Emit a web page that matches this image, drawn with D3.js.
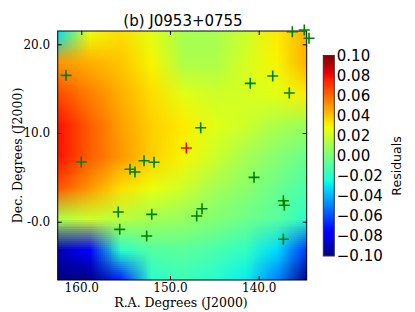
<!DOCTYPE html>
<html>
<head>
<meta charset="utf-8">
<script src="https://cdn.jsdelivr.net/npm/d3@7"></script>
<style>
  body { margin: 0; background: #fff; }
  .serif { font-family: 'DejaVu Serif', serif; }
  .sans { font-family: 'DejaVu Sans', sans-serif; }
</style>
</head>
<body>
<svg id="chart" width="415" height="312"></svg>
<script>
const title = '(b) J0953+0755';

// residual surface, sampled on a regular grid (rows = Dec, cols = R.A.)
const gridRA = [162.66, 159.15, 155.64, 152.13, 148.63, 145.12, 141.61, 138.10, 134.59];
const gridDec = [21.5, 17.99, 14.48, 10.97, 7.47, 3.96, 0.45, -3.06, -6.57];
const residuals = [
  [-0.03, 0.028, 0.035, 0.025, 0.01, 0.01, 0.02, 0.032, 0.045],
  [0.05, 0.045, 0.04, 0.03, 0.012, 0.012, 0.022, 0.03, 0.045],
  [0.066, 0.055, 0.045, 0.035, 0.025, 0.02, 0.022, 0.025, 0.032],
  [0.078, 0.062, 0.048, 0.038, 0.032, 0.025, 0.02, 0.012, 0.008],
  [0.078, 0.062, 0.05, 0.038, 0.03, 0.02, 0.01, 0.003, -0.005],
  [0.064, 0.05, 0.035, 0.027, 0.02, 0.01, 0.004, -0.004, -0.012],
  [0.012, 0.02, 0.015, 0.01, 0.007, 0.002, -0.003, -0.008, -0.02],
  [-0.09, -0.075, -0.02, -0.01, -0.008, -0.012, -0.018, -0.032, -0.065],
  [-0.1, -0.1, -0.07, -0.02, -0.015, -0.02, -0.028, -0.05, -0.1],
];

// calibrator sources (green) and the target (red)
const sourceRA = [161.72, 136.21, 134.86, 134.33, 140.95, 138.42, 136.55, 146.54, 160.0,
  152.93, 151.8, 154.51, 153.95, 140.53, 155.83, 152.06, 146.39, 146.99, 137.22, 137.11,
  155.67, 152.63, 137.22];
const sourceDec = [16.5, 21.42, 21.61, 20.68, 15.6, 16.43, 14.51, 10.6, 6.73,
  6.88, 6.7, 5.91, 5.6, 5.0, 1.09, 0.83, 1.47, 0.64, 2.37, 1.85,
  -0.86, -1.61, -1.98];
const targetRA = [148.16];
const targetDec = [8.31];

const xTicks = [160, 150, 140];
const xTickLabels = ['160.0', '150.0', '140.0'];
const yTicks = [20, 10, 0];
const yTickLabels = ['20.0', '10.0', '-0.0'];
const cbarTicks = [0.10, 0.08, 0.06, 0.04, 0.02, 0.00, -0.02, -0.04, -0.06, -0.08, -0.10];
const cbarTickLabels = ['0.10', '0.08', '0.06', '0.04', '0.02', '0.00',
  '\u22120.02', '\u22120.04', '\u22120.06', '\u22120.08', '\u22120.10'];

const plot = { left: 57.7, top: 31, width: 249, height: 249 };
const cbar = { left: 323.3, top: 55.5, width: 11, height: 200.5 };

// matplotlib "jet"
const jetR = d3.scaleLinear().domain([0, 0.35, 0.66, 0.89, 1]).range([0, 0, 1, 1, 0.5]).clamp(true);
const jetG = d3.scaleLinear().domain([0, 0.125, 0.375, 0.64, 0.91, 1]).range([0, 0, 1, 1, 0, 0]).clamp(true);
const jetB = d3.scaleLinear().domain([0, 0.11, 0.34, 0.65, 1]).range([0.5, 1, 1, 0, 0]).clamp(true);
const jet = t => d3.rgb(jetR(t) * 255, jetG(t) * 255, jetB(t) * 255);

const color = d3.scaleSequential(jet).domain([-0.1, 0.1]).clamp(true);

const x = d3.scaleLinear()
  .domain([gridRA[0], gridRA[gridRA.length - 1]])
  .range([plot.left, plot.left + plot.width]);
const y = d3.scaleLinear()
  .domain([gridDec[0], gridDec[gridDec.length - 1]])
  .range([plot.top, plot.top + plot.height]);

const svg = d3.select('#chart');

// --- residual image: one pixel per grid node, smoothed up to the plot size
const nx = gridRA.length, ny = gridDec.length;
const small = document.createElement('canvas');
small.width = nx; small.height = ny;
const sctx = small.getContext('2d');
const img = sctx.createImageData(nx, ny);
residuals.forEach((row, j) => row.forEach((v, i) => {
  const c = d3.rgb(color(v));
  const k = (j * nx + i) * 4;
  img.data[k] = c.r; img.data[k + 1] = c.g; img.data[k + 2] = c.b; img.data[k + 3] = 255;
}));
sctx.putImageData(img, 0, 0);

const x0 = x(gridRA[0]), x1 = x(gridRA[nx - 1]);
const y0 = y(gridDec[0]), y1 = y(gridDec[ny - 1]);
const big = document.createElement('canvas');
big.width = Math.round(x1 - x0); big.height = Math.round(y1 - y0);
const bctx = big.getContext('2d');
bctx.imageSmoothingEnabled = true;
bctx.imageSmoothingQuality = 'low';
bctx.drawImage(small, 0.5, 0.5, nx - 1, ny - 1, 0, 0, big.width, big.height);

svg.append('image')
  .attr('x', x0).attr('y', y0)
  .attr('width', x1 - x0).attr('height', y1 - y0)
  .attr('preserveAspectRatio', 'none')
  .attr('href', big.toDataURL());

// --- axes (ticks point inward, on all four sides)
const tickFont = g => g.selectAll('text')
  .attr('class', 'serif').style('font-size', '12px').attr('fill', '#000');
const clean = g => {
  g.select('.domain').remove();
  g.selectAll('line').attr('stroke', '#000');
};

svg.append('g')
  .attr('transform', `translate(0,${plot.top + plot.height})`)
  .call(d3.axisBottom(x).tickValues(xTicks).tickFormat((d, i) => xTickLabels[i])
    .tickSizeInner(-4).tickSizeOuter(0).tickPadding(3.5))
  .call(clean).call(tickFont);

svg.append('g')
  .attr('transform', `translate(0,${plot.top})`)
  .call(d3.axisTop(x).tickValues(xTicks).tickFormat('').tickSizeInner(-4).tickSizeOuter(0))
  .call(clean);

svg.append('g')
  .attr('transform', `translate(${plot.left},0)`)
  .call(d3.axisLeft(y).tickValues(yTicks).tickFormat((d, i) => yTickLabels[i])
    .tickSizeInner(-4).tickSizeOuter(0).tickPadding(7.5))
  .call(clean).call(tickFont);

svg.append('g')
  .attr('transform', `translate(${plot.left + plot.width},0)`)
  .call(d3.axisRight(y).tickValues(yTicks).tickFormat('').tickSizeInner(-4).tickSizeOuter(0))
  .call(clean);

svg.append('rect')
  .attr('x', plot.left).attr('y', plot.top)
  .attr('width', plot.width).attr('height', plot.height)
  .attr('fill', 'none').attr('stroke', '#000').attr('stroke-width', 1);

// --- markers
const plus = 'M-5.5,0H5.5M0,-5.5V5.5';
svg.append('g').selectAll('path')
  .data(sourceRA.map((ra, i) => [ra, sourceDec[i]]))
  .join('path')
  .attr('transform', d => `translate(${x(d[0])},${y(d[1])})`)
  .attr('d', plus)
  .attr('stroke', '#008000').attr('stroke-width', 1.6).attr('fill', 'none');

svg.append('g').selectAll('path')
  .data(targetRA.map((ra, i) => [ra, targetDec[i]]))
  .join('path')
  .attr('transform', d => `translate(${x(d[0])},${y(d[1])})`)
  .attr('d', plus)
  .attr('stroke', '#ff0000').attr('stroke-width', 1.6).attr('fill', 'none');

// --- labels
svg.append('text')
  .attr('class', 'sans')
  .attr('x', 183).attr('y', 26)
  .attr('text-anchor', 'middle')
  .style('font-size', '15px')
  .text(title);

svg.append('text')
  .attr('class', 'serif')
  .attr('x', 181).attr('y', 306.5)
  .attr('text-anchor', 'middle')
  .style('font-size', '12.5px')
  .text('R.A. Degrees (J2000)');

svg.append('text')
  .attr('class', 'serif')
  .attr('transform', 'translate(17.5,155.5) rotate(-90)')
  .attr('dy', '0.35em')
  .attr('text-anchor', 'middle')
  .style('font-size', '12.5px')
  .text('Dec. Degrees (J2000)');

// --- colorbar
const cy = d3.scaleLinear().domain([0.1, -0.1]).range([cbar.top, cbar.top + cbar.height]);
const grad = svg.append('defs').append('linearGradient')
  .attr('id', 'jetGrad').attr('x1', 0).attr('y1', 1).attr('x2', 0).attr('y2', 0);
grad.selectAll('stop')
  .data(d3.range(0, 1.0001, 0.02))
  .join('stop')
  .attr('offset', d => d)
  .attr('stop-color', d => jet(d).formatHex());

svg.append('rect')
  .attr('x', cbar.left).attr('y', cbar.top)
  .attr('width', cbar.width).attr('height', cbar.height)
  .attr('fill', 'url(#jetGrad)')
  .attr('stroke', '#333').attr('stroke-width', 1);

svg.append('g').selectAll('text')
  .data(cbarTicks)
  .join('text')
  .attr('class', 'sans')
  .attr('x', cbar.left + cbar.width + 2.5)
  .attr('y', d => cy(d))
  .attr('dy', '0.36em')
  .style('font-size', '15px')
  .text((d, i) => cbarTickLabels[i]);

svg.append('text')
  .attr('class', 'sans')
  .attr('transform', 'translate(397,166) rotate(-90)')
  .attr('dy', '0.35em')
  .attr('text-anchor', 'middle')
  .style('font-size', '12.5px')
  .text('Residuals');
</script>
</body>
</html>
